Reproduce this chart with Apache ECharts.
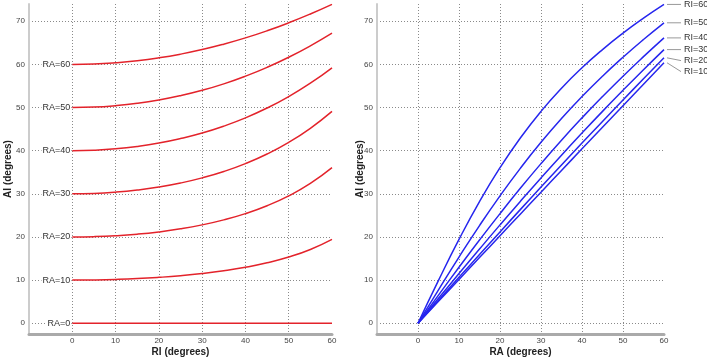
<!DOCTYPE html>
<html>
<head>
<meta charset="utf-8">
<script src="https://cdn.jsdelivr.net/npm/echarts@6/dist/echarts.min.js"></script>
<style>
  html, body { margin: 0; padding: 0; background: #fff; }
  #chart { width: 707px; height: 360px; }
</style>
</head>
<body>
<div id="chart"></div>
<script>
// x samples (degrees)
const riSteps = [0, 5, 10, 15, 20, 25, 30, 35, 40, 45, 50, 55, 60];
const raSteps = [0, 5, 10, 15, 20, 25, 30, 35, 40, 45, 50, 55, 60];

// left panel: AI vs RI for each RA
const aiRa0  = [0, 0, 0, 0, 0, 0, 0, 0, 0, 0, 0, 0, 0];
const aiRa10 = [10.0, 10.04, 10.15, 10.34, 10.63, 11.01, 11.51, 12.15, 12.96, 14.0, 15.34, 17.09, 19.43];
const aiRa20 = [20.0, 20.07, 20.28, 20.64, 21.17, 21.88, 22.8, 23.96, 25.41, 27.24, 29.52, 32.4, 36.05];
const aiRa30 = [30.0, 30.09, 30.38, 30.87, 31.57, 32.5, 33.69, 35.18, 37.0, 39.23, 41.93, 45.19, 49.11];
const aiRa40 = [40.0, 40.11, 40.43, 40.98, 41.76, 42.8, 44.09, 45.69, 47.6, 49.88, 52.54, 55.64, 59.21];
const aiRa50 = [50.0, 50.1, 50.43, 50.97, 51.74, 52.75, 53.99, 55.49, 57.27, 59.32, 61.66, 64.3, 67.24];
const aiRa60 = [60.0, 60.09, 60.38, 60.85, 61.52, 62.38, 63.43, 64.69, 66.14, 67.79, 69.64, 71.68, 73.9];

// right panel: AI vs RA for each RI
const aiRi10 = [0, 5.08, 10.15, 15.22, 20.28, 25.34, 30.38, 35.41, 40.43, 45.44, 50.43, 55.41, 60.38];
const aiRi20 = [0, 5.32, 10.63, 15.92, 21.17, 26.39, 31.57, 36.69, 41.76, 46.78, 51.74, 56.66, 61.52];
const aiRi30 = [0, 5.77, 11.51, 17.19, 22.8, 28.3, 33.69, 38.96, 44.09, 49.11, 53.99, 58.77, 63.43];
const aiRi40 = [0, 6.52, 12.96, 19.28, 25.41, 31.33, 37.0, 42.43, 47.6, 52.54, 57.27, 61.79, 66.14];
const aiRi50 = [0, 7.75, 15.34, 22.63, 29.52, 35.96, 41.93, 47.45, 52.54, 57.27, 61.66, 65.77, 69.64];
const aiRi60 = [0, 9.93, 19.43, 28.19, 36.05, 43.0, 49.11, 54.47, 59.21, 63.43, 67.24, 70.71, 73.9];

const leftCurves = [
  { name: 'RA=0', start: 0, values: aiRa0 },
  { name: 'RA=10', start: 10, values: aiRa10 },
  { name: 'RA=20', start: 20, values: aiRa20 },
  { name: 'RA=30', start: 30, values: aiRa30 },
  { name: 'RA=40', start: 40, values: aiRa40 },
  { name: 'RA=50', start: 50, values: aiRa50 },
  { name: 'RA=60', start: 60, values: aiRa60 }
];
const rightCurves = [
  { name: 'RI=60', values: aiRi60 },
  { name: 'RI=50', values: aiRi50 },
  { name: 'RI=40', values: aiRi40 },
  { name: 'RI=30', values: aiRi30 },
  { name: 'RI=20', values: aiRi20 },
  { name: 'RI=10', values: aiRi10 }
];

const FONT = '"Liberation Sans", Arial, sans-serif';
const gridLine = { show: true, showMinLine: false, showMaxLine: false,
  lineStyle: { color: '#8a8a8a', width: 1, type: [1, 2] } };
const tickFmt = function (v) {
  return Math.abs(v % 10) < 1e-9 && v >= 0 ? String(Math.round(v)) : '';
};

function xAxisOf(idx, name) {
  return {
    gridIndex: idx, type: 'value', min: -10, max: 60, interval: 10,
    name: name, nameLocation: 'middle', nameGap: 13, nameMoveOverlap: false,
    nameTextStyle: { fontFamily: FONT, fontSize: 10, fontWeight: 'bold', color: '#222' },
    axisLine: { show: true, onZero: false, lineStyle: { color: '#aaaaaa', width: 3 } },
    axisTick: { show: false },
    axisLabel: { fontFamily: FONT, fontSize: 8, color: '#444', margin: 3, formatter: tickFmt },
    splitLine: gridLine
  };
}
function yAxisOf(idx, gap) {
  return {
    gridIndex: idx, type: 'value', min: -2.5, max: 74, splitNumber: 8,
    name: 'AI (degrees)', nameLocation: 'middle', nameGap: gap, nameRotate: 90,
    nameMoveOverlap: false,
    nameTextStyle: { fontFamily: FONT, fontSize: 10, fontWeight: 'bold', color: '#222' },
    axisLine: { show: true, onZero: false, lineStyle: { color: '#cccccc', width: 2 } },
    axisTick: { show: false },
    axisLabel: { fontFamily: FONT, fontSize: 8, color: '#444', margin: 4, formatter: tickFmt },
    splitLine: gridLine
  };
}

const series = [];
leftCurves.forEach(function (c) {
  series.push({
    name: c.name, type: 'line', xAxisIndex: 0, yAxisIndex: 0,
    smooth: true, showSymbol: false, silent: true,
    lineStyle: { color: '#e3232b', width: 1.5 },
    data: riSteps.map(function (x, i) { return [x, c.values[i]]; })
  });
});
rightCurves.forEach(function (c) {
  series.push({
    name: c.name, type: 'line', xAxisIndex: 1, yAxisIndex: 1,
    smooth: true, showSymbol: false, silent: true,
    lineStyle: { color: '#2626ee', width: 1.5 },
    data: raSteps.map(function (x, i) { return [x, c.values[i]]; })
  });
});

const chart = echarts.init(document.getElementById('chart'), null, { renderer: 'canvas' });
chart.setOption({
  animation: false,
  backgroundColor: '#ffffff',
  grid: [
    { left: 29, top: 4, width: 303, height: 330, containLabel: false, outerBoundsMode: 'none' },
    { left: 377, top: 4, width: 287, height: 330, containLabel: false, outerBoundsMode: 'none' }
  ],
  xAxis: [xAxisOf(0, 'RI (degrees)'), xAxisOf(1, 'RA (degrees)')],
  yAxis: [yAxisOf(0, 16), yAxisOf(1, 12)],
  series: series
});

// curve labels, placed from the axes' own scales
const graphics = [];
leftCurves.forEach(function (c) {
  const p = chart.convertToPixel({ gridIndex: 0 }, [0, c.start]);
  graphics.push({
    type: 'text', x: p[0] - 1, y: p[1], z: 10,
    style: { text: c.name, align: 'right', verticalAlign: 'middle',
      font: '9px ' + FONT, fill: '#333', backgroundColor: '#fff', padding: [0, 1] }
  });
});
let prevY = -100;
rightCurves.forEach(function (c) {
  const p = chart.convertToPixel({ gridIndex: 1 }, [60, c.values[c.values.length - 1]]);
  const ly = Math.max(p[1], prevY + 11);
  prevY = ly;
  graphics.push({
    type: 'line', z: 10,
    shape: { x1: p[0] + 3, y1: p[1], x2: p[0] + 17, y2: ly },
    style: { stroke: '#999', lineWidth: 1 }
  });
  graphics.push({
    type: 'text', x: p[0] + 20, y: ly, z: 10,
    style: { text: c.name, align: 'left', verticalAlign: 'middle',
      font: '9px ' + FONT, fill: '#333' }
  });
});
chart.setOption({ graphic: graphics });
</script>
</body>
</html>
